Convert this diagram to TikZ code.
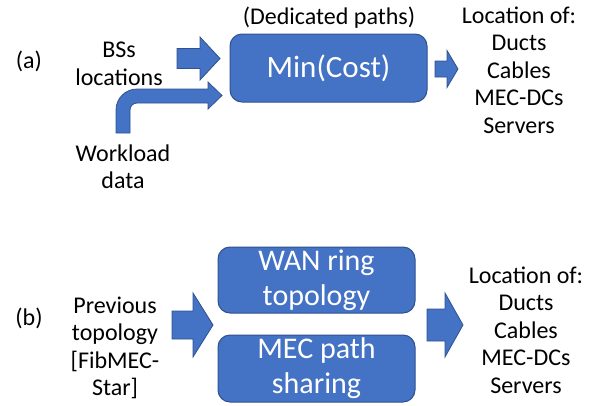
\documentclass[tikz,border=0pt]{standalone}
\usepackage{fontspec}
\setmainfont{Carlito}
\definecolor{officeblue}{HTML}{4472C4}
\definecolor{officeedge}{HTML}{2F528F}
\tikzset{
  lbl/.style={align=center, inner sep=0pt, font=\fontsize{24}{27.5}\selectfont},
  bluebox/.style={draw=officeedge, fill=officeblue, line width=1pt, rounded corners=12pt,
    text=white, align=center, inner sep=0pt},
  arrowfill/.style={draw=officeedge, fill=officeblue, line width=0.8pt}
}
% block arrow: x start, x tip, y centre, half shaft, half head, head length
\newcommand{\blockarrow}[6]{%
  \filldraw[arrowfill] (#1,#3-#4) -- (#2-#6,#3-#4) -- (#2-#6,#3-#5) -- (#2,#3)
    -- (#2-#6,#3+#5) -- (#2-#6,#3+#4) -- (#1,#3+#4) -- cycle;}
\begin{document}
\begin{tikzpicture}[x=1pt,y=-1pt]
\useasboundingbox (0,0) rectangle (595,405);
% (a)
\node[lbl] (tagA) at (29,61) {(a)};
\node[lbl] (bs) at (119,64) {BSs\\locations};
\node[lbl] (wl) at (123,167) {Workload\\data};
\node[lbl] (ded) at (329,18) {(Dedicated paths)};
\node[bluebox, minimum width=197pt, minimum height=68pt,
  font=\fontsize{31}{36}\selectfont] (mincost) at (328.5,68) {Min(Cost)};
\node[lbl] (outA) at (519,70) {Location of:\\Ducts\\Cables\\MEC-DCs\\Servers};
\blockarrow{177}{220}{58.5}{10}{21.5}{20}
\blockarrow{435}{458}{69}{8}{18.5}{11}
% bent arrow from workload data
\filldraw[arrowfill] (116,133) -- (116,110) arc[start angle=180, end angle=270, radius=21]
  -- (208,89) -- (208,82) -- (222,95.5) -- (208,109) -- (208,103) -- (137,103)
  arc[start angle=270, end angle=180, radius=7] -- (130,133) -- cycle;
% (b)
\node[lbl] (tagB) at (29,318) {(b)};
\node[lbl] (prev) at (115,348) {Previous\\topology\\{[FibMEC-}\\Star]};
\node[bluebox, minimum width=197pt, minimum height=66pt] (wan) at (316.5,280) {};
\node[text=white, align=center, inner sep=0pt, font=\fontsize{30}{35}\selectfont]
  (wantxt) at (wan.center) {WAN ring\\topology};
\node[bluebox, minimum width=197pt, minimum height=67pt] (share) at (316.5,368.5) {};
\node[text=white, align=center, inner sep=0pt, font=\fontsize{30}{35}\selectfont]
  (sharetxt) at (share.center) {MEC path\\sharing};
\node[lbl] (outB) at (526,330) {Location of:\\Ducts\\Cables\\MEC-DCs\\Servers};
\blockarrow{172}{213}{325}{14}{32}{20}
\blockarrow{427}{463}{325}{16}{32}{18}
\end{tikzpicture}
\end{document}
